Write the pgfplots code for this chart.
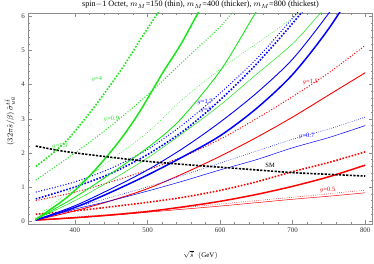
\documentclass[border=0pt]{standalone}
\usepackage{pgfplots}
\pgfplotsset{compat=1.18}
\usepackage{fontspec}
\setmainfont{Liberation Serif}
\definecolor{mgreen}{rgb}{0.1,0.9,0.1}
\definecolor{mblue}{rgb}{0,0,1}
\definecolor{mred}{rgb}{1,0,0}
\definecolor{frm}{gray}{0.55}
\begin{document}
\begin{tikzpicture}
\begin{axis}[name=ax,
  scale only axis, width=344bp, height=211.5bp,
  xmin=336, xmax=810, ymin=-0.1, ymax=6.1,
  xtick={400,500,600,700,800}, ytick={0,1,2,3,4,5,6},
  minor x tick num=4, minor y tick num=4,
  tick align=inside, tick style={frm, line width=0.4pt},
  major tick length=4bp, minor tick length=2bp,
  axis line style={frm, line width=0.6pt},
  every tick label/.append style={font=\fontsize{7}{8}\selectfont, text=black!80},
  /pgf/number format/assume math mode=true,
  title={spin$-$1 Octet, $m_M$=150 (thin), $m_M$=400 (thicker), $m_M$=800 (thickest)},
  title style={font=\fontsize{8.2}{9}\selectfont, at={(axis description cs:0.5,1)}, anchor=center, yshift=2bp},
  xlabel={$\sqrt{\hat{s}}\;\;(\mathrm{GeV})$},
  xlabel style={font=\fontsize{7}{8}\selectfont, at={(axis description cs:0.5,0)}, anchor=center, yshift=-30.5bp},
  ylabel={$(32\pi\hat{s}/\beta)\,\hat{\sigma}^{t\bar t}_{u\bar u}$},
  ylabel style={font=\fontsize{8}{9}\selectfont, at={(axis description cs:0,0.49)}, anchor=center, yshift=18.5bp},
  clip=true,
]
\tikzset{thin/.style={line width=0.5pt}, med/.style={line width=0.9pt}, thk/.style={line width=1.5pt},
  dthin/.style={line width=0.6pt, dash pattern=on 0.6pt off 1.6pt},
  dmed/.style={line width=1.0pt, dash pattern=on 1pt off 1.8pt},
  dthk/.style={line width=1.6pt, dash pattern=on 1.6pt off 1.6pt}}
% RED
\addplot[mred, thin, smooth, no marks] coordinates {(346,0.02)(400,0.09)(450,0.17)(500,0.26)(550,0.35)(600,0.44)(650,0.54)(700,0.64)(750,0.73)(800,0.83)};
\addplot[mred, dthin, smooth, no marks] coordinates {(346,0.03)(400,0.12)(450,0.2)(500,0.3)(550,0.4)(600,0.5)(650,0.6)(700,0.7)(750,0.8)(800,0.91)};
\addplot[mred, thk, smooth, no marks] coordinates {(346,0.03)(400,0.1)(450,0.18)(500,0.28)(550,0.42)(600,0.58)(650,0.78)(700,1.02)(750,1.3)(800,1.64)};
\addplot[mred, dthk, smooth, no marks] coordinates {(346,0.2)(400,0.3)(450,0.42)(500,0.55)(550,0.7)(600,0.9)(650,1.15)(700,1.45)(750,1.72)(800,2.03)};
\addplot[mred, med, smooth, no marks] coordinates {(346,0.03)(400,0.3)(450,0.6)(500,0.95)(550,1.4)(600,1.9)(650,2.45)(700,3.05)(750,3.7)(800,4.35)};
\addplot[mred, dmed, smooth, no marks] coordinates {(346,0.6)(400,0.85)(450,1.15)(500,1.5)(550,1.9)(600,2.4)(650,3.0)(700,3.65)(750,4.35)(800,5.15)};
% BLUE
\addplot[mblue, thin, smooth, no marks] coordinates {(346,0.03)(400,0.35)(450,0.6)(500,0.88)(550,1.18)(600,1.5)(650,1.8)(700,2.15)(750,2.45)(800,2.8)};
\addplot[mblue, dthin, smooth, no marks] coordinates {(346,0.05)(400,0.4)(450,0.7)(500,1.0)(550,1.35)(600,1.7)(650,2.05)(700,2.4)(750,2.7)(800,3.05)};
\addplot[mblue, thk, smooth, no marks] coordinates {(346,0.03)(400,0.4)(450,0.85)(500,1.35)(550,1.9)(600,2.5)(650,3.3)(700,4.3)(750,5.65)(800,7.3)};
\addplot[mblue, med, smooth, no marks] coordinates {(346,0.03)(400,0.45)(450,0.95)(500,1.5)(550,2.15)(600,2.9)(650,3.75)(700,4.75)(750,6.1)(800,7.6)};
\addplot[mblue, dthk, smooth, no marks] coordinates {(346,0.65)(400,1.0)(450,1.4)(500,1.95)(550,2.65)(600,3.55)(650,4.6)(700,5.8)(750,7.1)};
\addplot[mblue, dmed, smooth, no marks] coordinates {(346,0.85)(400,1.15)(450,1.55)(500,2.1)(550,2.85)(600,3.75)(650,4.75)(700,5.95)(750,7.2)};
% GREEN
\addplot[mgreen, dthk, smooth, no marks] coordinates {(346,1.6)(370,2.0)(393,2.46)(430,3.44)(466,4.51)(494,5.45)(517,6.2)(530,6.7)};
\addplot[mgreen, thk, smooth, no marks] coordinates {(346,0.05)(380,0.55)(400,0.9)(430,1.55)(462,2.37)(489,3.2)(521,4.35)(545,5.15)(567,6.0)(580,6.5)};
\addplot[mgreen, dmed, smooth, no marks] coordinates {(346,1.2)(400,2.0)(450,2.8)(500,3.7)(550,4.7)(600,5.7)(620,6.2)};
\addplot[mgreen, med, smooth, no marks] coordinates {(346,0.05)(400,0.7)(450,1.4)(500,2.15)(544,2.95)(600,4.4)(643,5.9)(660,6.5)};
\addplot[mgreen, dthin, smooth, no marks] coordinates {(346,0.1)(400,1.0)(450,1.8)(500,2.6)(550,3.6)(600,4.45)(650,5.2)(700,5.95)(720,6.3)};
\addplot[mgreen, thin, smooth, no marks] coordinates {(346,0.05)(400,0.6)(450,1.2)(500,1.85)(550,2.6)(600,3.4)(650,4.3)(700,5.2)(730,5.9)(760,6.6)};
% SM
\addplot[black, line width=1.6pt, dash pattern=on 2.2pt off 1.4pt, smooth, no marks] coordinates {(346,2.2)(375,2.08)(400,2.0)(450,1.87)(500,1.75)(550,1.66)(600,1.58)(650,1.5)(700,1.42)(750,1.37)(800,1.32)};
% labels
\begin{scope}[every node/.style={font=\fontsize{6.5}{7}\selectfont, inner sep=0pt}]
\node[text=mgreen] at (axis cs:430,4.18) {$g$=4};
\node[text=mgreen] at (axis cs:379,2.19) {$g$=1.9};
\node[text=mgreen] at (axis cs:450,3.0) {$g$=0.9};
\node[text=mblue] at (axis cs:579,3.49) {$g$=1.7};
\node[text=mblue] at (axis cs:580,3.25) {$g$=3};
\node[text=mred] at (axis cs:724,4.07) {$g$=1.5};
\node[text=mblue] at (axis cs:719,2.51) {$g$=0.7};
\node[text=black] at (axis cs:669,1.64) {SM};
\node[text=mred] at (axis cs:748,0.92) {$g$=0.5};
\end{scope}
\end{axis}
\pgfresetboundingbox
\path ([xshift=-28.5bp,yshift=-39.5bp]ax.south west) rectangle ([xshift=1.5bp,yshift=13bp]ax.north east);
\end{tikzpicture}
\end{document}
